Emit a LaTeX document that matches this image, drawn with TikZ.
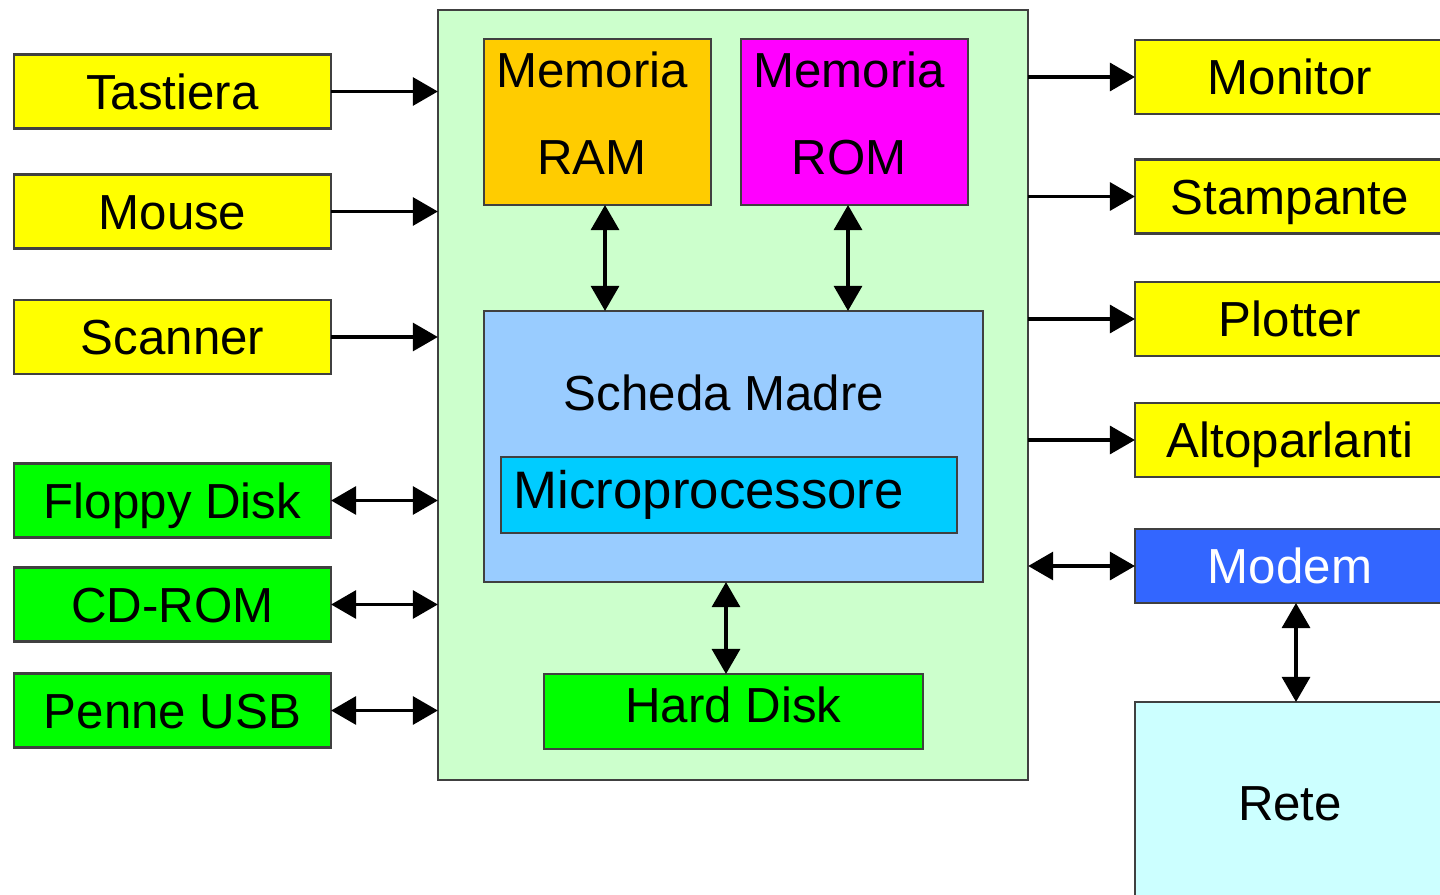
\documentclass[tikz,border=0pt]{standalone}
\usepackage{fontspec}
\setmainfont{Liberation Sans}
\usetikzlibrary{arrows.meta}

\definecolor{giallo}{HTML}{FFFF00}
\definecolor{verde}{HTML}{00FF00}
\definecolor{verdino}{HTML}{CCFFCC}
\definecolor{arancio}{HTML}{FFCC00}
\definecolor{magenta}{HTML}{FF00FF}
\definecolor{celeste}{HTML}{99CCFF}
\definecolor{ciano}{HTML}{00CCFF}
\definecolor{blu}{HTML}{3366FF}
\definecolor{azzurrino}{HTML}{CCFFFF}

\tikzset{
	blocco/.style={draw=black!75, line width=0.6pt, inner sep=0pt, outer sep=0pt,
		font=\fontsize{14}{16}\selectfont, text height=10pt, text depth=0pt},
	ingresso/.style={blocco, minimum width=3.17cm, minimum height=0.74cm},
	uscita/.style={blocco, minimum width=3.1cm, minimum height=0.74cm},
	testo/.style={inner sep=0pt, font=\fontsize{14}{16}\selectfont, text height=10pt, text depth=0pt},
	freccia/.style={line width=0.9pt, black},
	>={Triangle[length=2.5mm,width=2.8mm]}
}

\begin{document}
\begin{tikzpicture}[x=0.01cm, y=-0.01cm]
	\useasboundingbox (0,0) rectangle (1440,894);
	\clip (0,0) rectangle (1440,894);

	%% The computer box and what sits inside it
	\node at (733,395) [blocco, fill=verdino, minimum width=5.9cm, minimum height=7.7cm] (pc) {};
	\node at (597.5,122) [blocco, fill=arancio, minimum width=2.27cm, minimum height=1.66cm] (ram) {};
	\node at (854.5,122) [blocco, fill=magenta, minimum width=2.27cm, minimum height=1.66cm] (rom) {};
	\node at (592,113.5) [testo, align=center, text height=, text depth=] (ramtxt) {Memoria\\[8.75pt]RAM};
	\node at (849,113.5) [testo, align=center, text height=, text depth=] (romtxt) {Memoria\\[8.75pt]ROM};
	\node at (733.5,446.5) [blocco, fill=celeste, minimum width=4.99cm, minimum height=2.71cm] (scheda) {};
	\node at (724,393) [testo] (schedatxt) {Scheda Madre};
	\node at (729,495) [blocco, fill=ciano, text width=4.3cm, align=left, inner xsep=0.13cm,
		minimum height=0.76cm, font=\fontsize{15}{17}\selectfont, text height=10.7pt, text depth=0.1cm] (micro) {Microprocessore};
	\node at (733.5,711.5) [blocco, fill=verde, minimum width=3.79cm, minimum height=0.75cm, text depth=0.14cm] (hd) {Hard Disk};

	%% Input devices on the left
	\node at (172.5,91.5) [ingresso, fill=giallo] (tastiera) {Tastiera};
	\node at (172.5,211.5) [ingresso, fill=giallo] (mouse) {Mouse};
	\node at (172.5,337) [ingresso, fill=giallo] (scanner) {Scanner};
	\node at (172.5,500.5) [ingresso, fill=verde] (floppy) {Floppy Disk};
	\node at (172.5,604.5) [ingresso, fill=verde] (cdrom) {CD-ROM};
	\node at (172.5,710.5) [ingresso, fill=verde] (penne) {Penne USB};

	%% Output devices on the right
	\node at (1290,77) [uscita, fill=giallo] (monitor) {Monitor};
	\node at (1290,196.5) [uscita, fill=giallo] (stampante) {Stampante};
	\node at (1290,319) [uscita, fill=giallo] (plotter) {Plotter};
	\node at (1290,440) [uscita, fill=giallo] (altoparlanti) {Altoparlanti};
	\node at (1290,566) [uscita, fill=blu, text=white] (modem) {Modem};
	\node at (1290,803) [blocco, fill=azzurrino, minimum width=3.1cm, minimum height=2.02cm] (rete) {Rete};

	%% Connectors
	\foreach \n in {tastiera, mouse, scanner}
		\draw [freccia, ->] (\n.east) -- (\n.east -| pc.west);
	\foreach \n in {floppy, cdrom, penne}
		\draw [freccia, <->] (\n.east) -- (\n.east -| pc.west);
	\foreach \n in {monitor, stampante, plotter, altoparlanti}
		\draw [freccia, ->] (pc.east |- \n.west) -- (\n.west);
	\draw [freccia, <->] (pc.east |- modem.west) -- (modem.west);
	\draw [freccia, <->] ([xshift=0.075cm]ram.south) -- ([xshift=0.075cm]ram.south |- scheda.north);
	\draw [freccia, <->] ([xshift=-0.065cm]rom.south) -- ([xshift=-0.065cm]rom.south |- scheda.north);
	\draw [freccia, <->] ([xshift=-0.075cm]scheda.south) -- ([xshift=-0.075cm]scheda.south |- hd.north);
	\draw [freccia, <->] ([xshift=0.06cm]modem.south) -- ([xshift=0.06cm]modem.south |- rete.north);
\end{tikzpicture}
\end{document}
